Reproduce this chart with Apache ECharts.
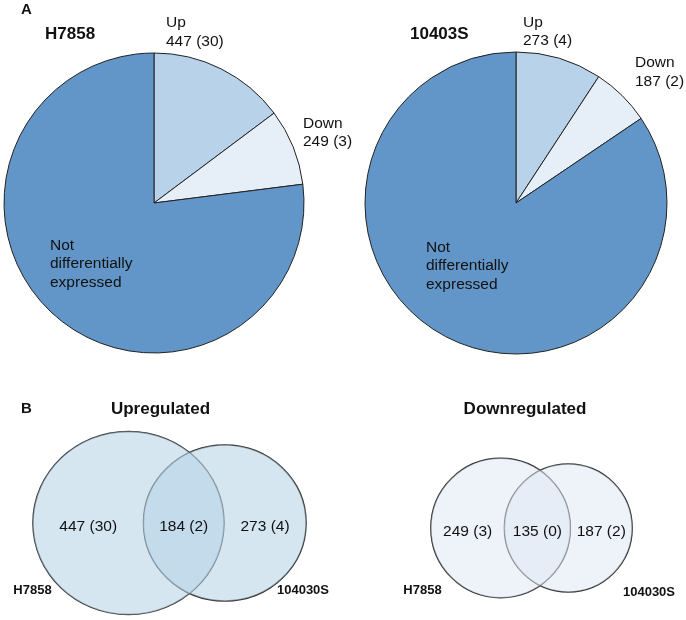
<!DOCTYPE html>
<html>
<head>
<meta charset="utf-8">
<title>Differentially expressed genes</title>
<script src="https://cdn.jsdelivr.net/npm/echarts@6/dist/echarts.min.js"></script>
<style>
html, body { margin: 0; padding: 0; background: #fff; }
#main { width: 686px; height: 620px; }
</style>
</head>
<body>
<div id="main"></div>
<script>
// A: gene counts per strain (Up, Down, Not DE), value in brackets
var SLICE_NAMES = ['Up', 'Down', 'Not\ndifferentially\nexpressed'];
var H7858_GENES = [447, 249, 2330];
var H7858_PAREN = [30, 3, null];
var S10403_GENES = [273, 187, 2500];
var S10403_PAREN = [4, 2, null];

// B: venn regions [only H7858, shared, only 104030S]
var VENN_SETS = ['H7858', '104030S'];
var UP_COUNTS = [447, 184, 273];
var UP_PAREN = [30, 2, 4];
var DOWN_COUNTS = [249, 135, 187];
var DOWN_PAREN = [3, 0, 2];

var FONT = 'Liberation Sans, Arial, sans-serif';
var sliceColors = ['#b8d3e9', '#e6eff8', '#6396c8'];

// area of the lens where two circles overlap
function lensArea(r1, r2, d) {
	if (d >= r1 + r2) return 0;
	if (d <= Math.abs(r1 - r2)) return Math.PI * Math.min(r1, r2) * Math.min(r1, r2);
	var a = r1 * r1 * Math.acos((d * d + r1 * r1 - r2 * r2) / (2 * d * r1));
	var b = r2 * r2 * Math.acos((d * d + r2 * r2 - r1 * r1) / (2 * d * r2));
	var c = 0.5 * Math.sqrt((-d + r1 + r2) * (d + r1 - r2) * (d - r1 + r2) * (d + r1 + r2));
	return a + b - c;
}

// area proportional two-set venn, centred on 0
function vennLayout(counts) {
	var r1 = Math.sqrt((counts[0] + counts[1]) / Math.PI);
	var r2 = Math.sqrt((counts[2] + counts[1]) / Math.PI);
	var lo = Math.abs(r1 - r2), hi = r1 + r2;
	for (var i = 0; i < 60; i++) {
		var mid = (lo + hi) / 2;
		if (lensArea(r1, r2, mid) > counts[1]) lo = mid; else hi = mid;
	}
	var d = (lo + hi) / 2;
	var x1 = -(r1 + d + r2) / 2 + r1;
	var x2 = x1 + d;
	return {
		circles: [[x1, 0, r1], [x2, 0, r2]],
		labels: [
			[((x1 - r1) + (x2 - r2)) / 2, 0],
			[((x2 - r2) + (x1 + r1)) / 2, 0],
			[((x1 + r1) + (x2 + r2)) / 2, 0]
		]
	};
}

function pieData(genes, paren) {
	return genes.map(function(v, i) {
		return { value: v, name: SLICE_NAMES[i], paren: paren[i], itemStyle: { color: sliceColors[i] } };
	});
}

function pieSeries(center, radius, genes, paren, spots) {
	return {
		type: 'pie',
		center: center,
		radius: radius,
		startAngle: 90,
		clockwise: true,
		silent: true,
		avoidLabelOverlap: false,
		data: pieData(genes, paren),
		itemStyle: { borderColor: '#222', borderWidth: 1 },
		label: {
			show: true,
			position: 'inside',
			color: '#111',
			fontSize: 15.5,
			fontFamily: FONT,
			lineHeight: 18.5,
			formatter: function(p) {
				if (p.data.paren == null) return p.name;
				return p.name + '\n' + p.value + ' (' + p.data.paren + ')';
			}
		},
		labelLine: { show: false },
		labelLayout: function(params) {
			var s = spots[params.dataIndex];
			return { x: s[0], y: s[1], align: 'left', verticalAlign: 'top', hideOverlap: false };
		}
	};
}

function ellipseRender(fill, stroke, lw) {
	return function(params, api) {
		var c = api.coord([api.value(0), api.value(1)]);
		var s = api.size([api.value(2), api.value(2)]);
		return {
			type: 'ellipse',
			shape: { cx: c[0], cy: c[1], rx: s[0], ry: s[1] },
			style: { fill: fill, stroke: stroke, lineWidth: lw }
		};
	};
}

function vennSeries(idx, counts, paren, fill) {
	var lay = vennLayout(counts);
	var texts = counts.map(function(v, i) { return v + ' (' + paren[i] + ')'; });
	return [{
		type: 'custom',
		xAxisIndex: idx, yAxisIndex: idx,
		silent: true,
		renderItem: ellipseRender('none', '#333', 1.5),
		data: lay.circles,
		z: 1
	}, {
		type: 'custom',
		xAxisIndex: idx, yAxisIndex: idx,
		silent: true,
		renderItem: ellipseRender(fill, 'none', 0),
		data: lay.circles,
		z: 2
	}, {
		type: 'custom',
		xAxisIndex: idx, yAxisIndex: idx,
		silent: true,
		renderItem: function(params, api) {
			var c = api.coord([api.value(0), api.value(1)]);
			return {
				type: 'text',
				x: c[0], y: c[1] + 4,
				style: {
					text: texts[params.dataIndex],
					fill: '#111',
					font: '15.5px ' + FONT,
					textAlign: 'center', align: 'center',
					textVerticalAlign: 'middle', verticalAlign: 'middle'
				}
			};
		},
		data: lay.labels,
		z: 3
	}];
}

function txt(x, y, text, size, bold, align) {
	return {
		type: 'text', x: x, y: y,
		style: {
			text: text,
			fill: '#111',
			font: (bold ? 'bold ' : '') + size + 'px ' + FONT,
			textAlign: align, align: align,
			textVerticalAlign: 'middle', verticalAlign: 'middle'
		}
	};
}

// px per unit (sqrt of gene count / pi)
var upScale = [6.74, 6.46];
var downScale = [6.31, 6.31];

var option = {
	animation: false,
	backgroundColor: '#fff',
	grid: [
		{ left: 19.5, top: 428, width: 300, height: 190 },
		{ left: 411.5, top: 448, width: 240, height: 160 }
	],
	xAxis: [
		{ type: 'value', gridIndex: 0, show: false, min: -150 / upScale[0], max: 150 / upScale[0] },
		{ type: 'value', gridIndex: 1, show: false, min: -120 / downScale[0], max: 120 / downScale[0] }
	],
	yAxis: [
		{ type: 'value', gridIndex: 0, show: false, min: -95 / upScale[1], max: 95 / upScale[1] },
		{ type: 'value', gridIndex: 1, show: false, min: -80 / downScale[1], max: 80 / downScale[1] }
	],
	graphic: [
		txt(21, 10, 'A', 15, true, 'left'),
		txt(45, 34, 'H7858', 17, true, 'left'),
		txt(410, 34, '10403S', 17, true, 'left'),
		txt(21, 409, 'B', 15, true, 'left'),
		txt(160.5, 409, 'Upregulated', 17, true, 'center'),
		txt(525, 409, 'Downregulated', 17, true, 'center'),
		txt(32.5, 590, VENN_SETS[0], 13, true, 'center'),
		txt(303, 590, VENN_SETS[1], 13, true, 'center'),
		txt(422.5, 590, VENN_SETS[0], 13, true, 'center'),
		txt(649, 592, VENN_SETS[1], 13, true, 'center')
	],
	series: [
		pieSeries([154, 203], 150, H7858_GENES, H7858_PAREN, [[166, 13.5], [303, 114], [50, 236]]),
		pieSeries([516, 203], 151, S10403_GENES, S10403_PAREN, [[523, 13], [635, 53.5], [426, 238]])
	]
		.concat(vennSeries(0, UP_COUNTS, UP_PAREN, 'rgba(182,210,230,0.56)'))
		.concat(vennSeries(1, DOWN_COUNTS, DOWN_PAREN, 'rgba(221,231,243,0.5)'))
};

var chart = echarts.init(document.getElementById('main'));
chart.setOption(option);
</script>
</body>
</html>
